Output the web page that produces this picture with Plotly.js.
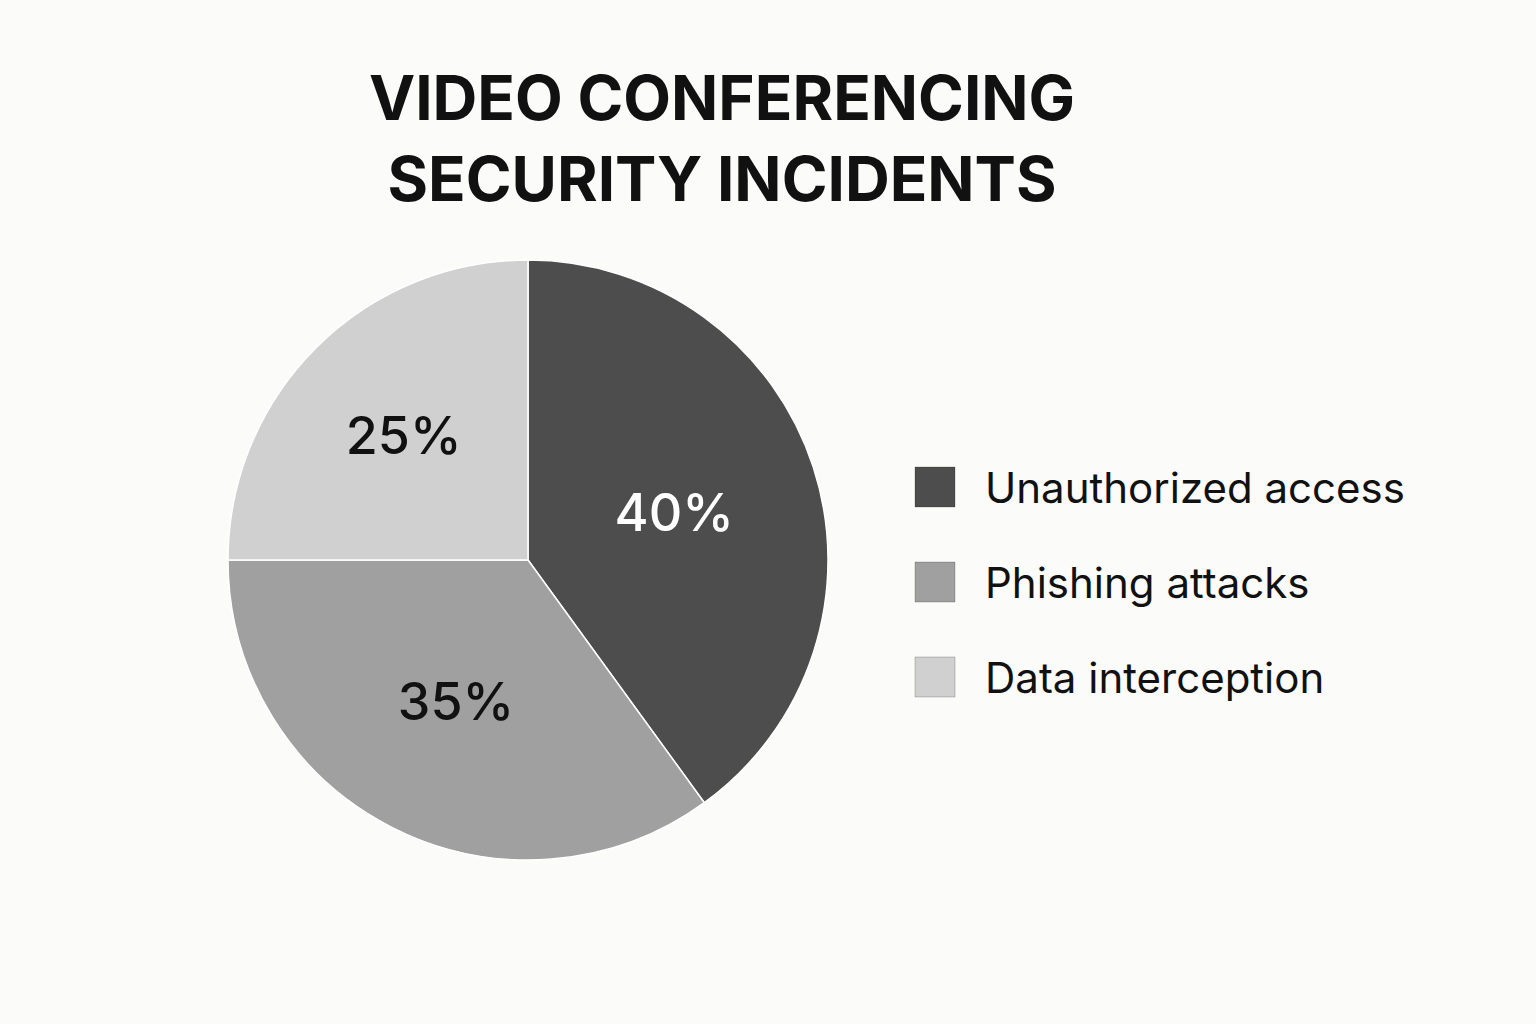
<!DOCTYPE html>
<html>
<head>
<meta charset="utf-8">
<script src="https://cdn.plot.ly/plotly-3.0.1.min.js"></script>
<style>
html,body{margin:0;padding:0;background:#fbfbf9;}
#chart{width:1536px;height:1024px;}
</style>
</head>
<body>
<div id="chart"></div>
<script>
const labels = ["Unauthorized access", "Phishing attacks", "Data interception"];
const values = [40, 35, 25];
const colors = ["#4d4d4d", "#a0a0a0", "#d0d0d0"];
const textColors = ["#ffffff", "#111111", "#111111"];
const titleText = "VIDEO CONFERENCING<br>SECURITY INCIDENTS";

const W = 1536, H = 1024;
const trace = {
  type: "pie",
  labels: labels,
  values: values,
  sort: false,
  direction: "clockwise",
  rotation: 0,
  marker: {colors: colors, line: {color: "#ffffff", width: 1.5}},
  textinfo: "percent",
  texttemplate: "%{percent:.0%}",
  textposition: "inside",
  insidetextorientation: "horizontal",
  textfont: {family: "Inter, 'Noto Sans', sans-serif", size: 52, color: textColors, weight: 500},
  hoverinfo: "none",
  showlegend: false,
  domain: {x: [228/W, 828/W], y: [1 - 860/H, 1 - 260/H]}
};

// custom legend built from the data arrays
const shapes = [];
const annotations = [];
const legX0 = 915, legSize = 40, legY0 = 467, legStep = 95;
labels.forEach((lab, i) => {
  const y0 = legY0 + i * legStep;
  shapes.push({
    type: "rect", xref: "paper", yref: "paper",
    x0: legX0 / W, x1: (legX0 + legSize) / W,
    y0: 1 - (y0 + legSize) / H, y1: 1 - y0 / H,
    fillcolor: colors[i], line: {color: "rgba(0,0,0,0.2)", width: 1}
  });
  annotations.push({
    xref: "paper", yref: "paper",
    x: 983 / W, y: 1 - (y0 + legSize / 2) / H,
    xanchor: "left", yanchor: "middle",
    text: lab, showarrow: false,
    font: {family: "Inter, 'Noto Sans', sans-serif", size: 42, color: "#111111"}
  });
});

const layout = {
  width: W, height: H,
  margin: {l: 0, r: 0, t: 0, b: 0},
  paper_bgcolor: "#fbfbf9",
  plot_bgcolor: "#fbfbf9",
  title: {
    text: titleText,
    x: 722 / W, xanchor: "center",
    y: 1 - 120 / H, yanchor: "middle",
    font: {family: "Inter, 'Noto Sans', sans-serif", size: 62, color: "#111111", weight: 700}
  },
  shapes: shapes,
  annotations: annotations,
  showlegend: false
};

Plotly.newPlot("chart", [trace], layout, {displayModeBar: false, staticPlot: true});
</script>
</body>
</html>
